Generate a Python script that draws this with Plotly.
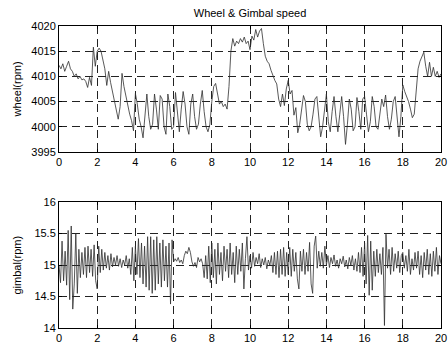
import numpy as np
import plotly.graph_objects as go
from plotly.subplots import make_subplots

# Wheel speed (rpm), sampled every 0.1 s from 0 to 20 s
wheel_rpm = [
    4012.2, 4011.5, 4012.5, 4011.0, 4012.0, 4013.0, 4011.5, 4011.0, 4010.0, 4010.5,
    4009.5, 4010.0, 4009.3, 4009.5, 4009.0, 4007.8, 4009.8, 4008.2, 4015.8, 4012.0,
    4015.0, 4015.6, 4015.0, 4013.2, 4011.5, 4008.2, 4011.0, 4008.8, 4007.0, 4005.5,
    4003.5, 4001.5, 4004.0, 4010.6, 4008.0, 4006.0, 4004.5, 4002.5, 4001.2, 3999.2,
    4006.6, 4004.5, 4001.5, 4000.0, 3997.8, 4003.0, 4006.5, 4002.0, 3999.5, 4000.5,
    4006.5, 4003.5, 3999.5, 4006.2, 4005.5, 4000.0, 3998.5, 4006.5, 4004.0, 3999.5,
    4000.0, 4006.8, 4002.0, 3999.0, 4003.5, 4007.0, 4004.5, 4000.0, 3998.5, 4004.5,
    4006.5, 4002.0, 3999.5, 4000.5, 4004.5, 4007.2, 4003.0, 4000.0, 3999.0, 4000.5,
    4005.0, 4008.0, 4008.6, 4006.5, 4004.5, 4005.0, 4004.0, 4004.5, 4003.5, 4008.0,
    4015.0, 4017.5, 4016.0, 4017.0, 4016.5, 4017.5, 4016.8, 4017.8, 4016.5, 4017.0,
    4015.3, 4018.0, 4017.2, 4019.3, 4017.8, 4019.0, 4019.5, 4016.5, 4014.0, 4013.0,
    4012.5, 4011.2, 4010.0, 4009.2, 4008.5, 4005.5, 4004.0, 4006.5, 4004.2, 4007.5,
    4009.2, 4006.5, 4007.2, 4002.3, 4003.8, 3998.8, 4000.5, 4003.5, 4006.2, 4005.0,
    4000.5, 3999.2, 4000.0, 4002.5, 4005.5, 4006.0, 4001.5, 3998.0, 4000.0, 4003.5,
    4006.5, 4001.0, 3999.0, 4003.0, 4006.0, 4002.0, 3999.0, 4002.5, 4006.0, 4002.0,
    3996.5, 4000.5, 4005.5, 4003.5, 3999.2, 4000.0, 4005.8, 4003.0, 3999.5, 4005.5,
    4006.0, 4002.5, 3999.0, 4001.0, 4006.0, 4004.0, 4000.0, 3999.5, 4003.0, 4005.5,
    4004.0, 4006.3, 4002.0, 3999.5, 4001.5, 4005.0, 4006.0, 4002.5, 3998.0, 4002.0,
    4008.3, 4007.0, 4006.0, 4005.0, 4003.5, 4001.8, 4002.5, 4008.0, 4011.5, 4013.0,
    4014.0, 4014.8, 4012.0, 4010.0, 4012.8, 4010.0, 4011.8, 4010.0, 4011.0, 4009.8,
    4010.5,
]

# Gimbal speed (rpm), sampled every 0.08 s from 0 to 20 s
gimbal_rpm = [
    # 0 - 2 s
    15.00, 14.72, 15.38, 14.75, 15.22, 14.68, 15.55, 14.45, 15.62, 14.30,
    14.70, 15.50, 14.55, 15.25, 14.80, 15.20, 14.85, 15.28, 14.80, 15.30,
    14.88, 15.25, 14.82, 15.32, 14.75,
    # 2 - 4 s
    14.62, 15.30, 14.88, 15.25, 14.92, 15.20, 14.95, 15.15, 14.92, 15.18,
    14.97, 15.12, 15.00, 15.15, 14.98, 15.10, 14.96, 15.08, 15.00, 15.15,
    14.95, 15.10, 14.85, 15.28, 14.75,
    # 4 - 6 s
    15.30, 14.85, 15.42, 14.80, 15.35, 14.70, 15.30, 14.65, 15.45, 14.60,
    15.45, 14.55, 15.40, 14.60, 15.45, 14.70, 15.35, 14.65, 15.40, 14.75,
    15.30, 14.65, 15.35, 14.38, 15.40,
    # 6 - 8 s
    15.05, 15.10, 15.06, 15.12, 15.04, 15.08, 15.02, 15.15, 15.22, 15.18,
    15.28, 15.20, 15.05, 14.98, 15.04, 14.96, 15.12, 15.05, 15.10, 15.02,
    14.80, 15.15, 14.78, 15.30, 14.72,
    # 8 - 10 s
    15.35, 14.80, 15.25, 14.70, 15.35, 14.85, 15.20, 14.75, 15.30, 14.90,
    15.25, 14.80, 15.35, 14.85, 15.20, 14.72, 15.30, 14.85, 15.25, 14.90,
    15.35, 14.62, 15.10, 15.45, 14.92,
    # 10 - 12 s
    15.15, 14.95, 15.20, 14.98, 15.12, 15.02, 15.18, 14.96, 15.10, 15.00,
    15.12, 14.94, 15.08, 15.00, 15.15, 14.88, 15.20, 14.85, 15.22, 14.80,
    15.25, 14.85, 15.28, 14.82, 15.20,
    # 12 - 14 s
    14.85, 15.28, 14.82, 15.25, 14.90, 15.20, 14.78, 14.62, 15.22, 14.90,
    15.25, 14.85, 15.20, 14.90, 15.36, 14.70, 14.55, 15.30, 15.46, 14.95,
    15.22, 14.98, 15.20, 14.95, 15.30,
    # 14 - 16 s
    15.00, 15.15, 14.96, 15.12, 15.02, 15.16, 14.98, 15.08, 14.95, 15.10,
    15.02, 15.14, 14.97, 15.08, 14.94, 15.12, 15.00, 15.15, 14.92, 15.10,
    14.90, 15.20, 14.88, 15.28, 14.82,
    # 16 - 18 s
    15.35, 14.70, 15.47, 14.52, 15.38, 14.60, 15.22, 14.82, 15.25, 14.88,
    15.18, 14.85, 15.28, 14.04, 15.49, 14.95, 15.25, 14.85, 15.28, 14.90,
    15.18, 14.95, 15.22, 14.88, 15.15,
    # 18 - 20 s
    15.20, 14.95, 15.15, 14.90, 15.25, 14.85, 15.10, 14.92, 15.20, 14.95,
    15.22, 14.85, 15.15, 14.80, 15.20, 14.92, 15.25, 14.85, 15.18, 14.82,
    15.22, 14.90, 15.28, 14.85, 15.15,
    15.02,
]

t_wheel = np.linspace(0, 20, len(wheel_rpm))
t_gimbal = np.linspace(0, 20, len(gimbal_rpm))

x_ticks = [0, 2, 4, 6, 8, 10, 12, 14, 16, 18, 20]
wheel_ticks = [3995, 4000, 4005, 4010, 4015, 4020]
gimbal_ticks = [14, 14.5, 15, 15.5, 16]

W, H = 448, 345
ML, MR, MT, MB = 59, 7, 26, 17

fig = make_subplots(rows=2, cols=1, vertical_spacing=0.166)

line_style = dict(color="#2e2e2e", width=0.8)
fig.add_trace(go.Scatter(x=t_wheel, y=wheel_rpm, mode="lines", line=line_style,
                         showlegend=False), row=1, col=1)
fig.add_trace(go.Scatter(x=t_gimbal, y=gimbal_rpm, mode="lines", line=line_style,
                         showlegend=False), row=2, col=1)

font = dict(family="Liberation Sans, Arial, sans-serif", size=11, color="black")

axis_common = dict(
    showline=True, linecolor="black", linewidth=1, mirror="allticks",
    ticks="inside", ticklen=3, tickcolor="black",
    showgrid=True, gridcolor="#222222", gridwidth=1, griddash="8px,5px",
    zeroline=False, tickfont=font, automargin=False,
)

for r in (1, 2):
    fig.update_xaxes(range=[0, 20], tickvals=x_ticks, row=r, col=1, **axis_common)

fig.update_yaxes(range=[3995, 4020], tickvals=wheel_ticks, row=1, col=1, **axis_common)
fig.update_yaxes(range=[14, 16], tickvals=gimbal_ticks, row=2, col=1, **axis_common)

fig.layout.yaxis.domain = [0.583, 1.0]
fig.layout.yaxis2.domain = [0.0, 0.417]

fig.add_annotation(text="wheel(rpm)", textangle=-90, x=-0.11, y=0.79,
                   xref="paper", yref="paper", xanchor="center", yanchor="middle",
                   showarrow=False, font=font)
fig.add_annotation(text="gimbal(rpm)", textangle=-90, x=-0.11, y=0.21,
                   xref="paper", yref="paper", xanchor="center", yanchor="middle",
                   showarrow=False, font=font)

fig.update_layout(
    width=W, height=H,
    margin=dict(l=ML, r=MR, t=MT, b=MB, autoexpand=False),
    paper_bgcolor="white", plot_bgcolor="white",
    font=font,
    title=dict(text="Wheel & Gimbal speed", x=0.5, xref="paper",
               y=1 - 13 / H, yref="container", yanchor="middle", font=font),
)

fig.write_html("out.html")
